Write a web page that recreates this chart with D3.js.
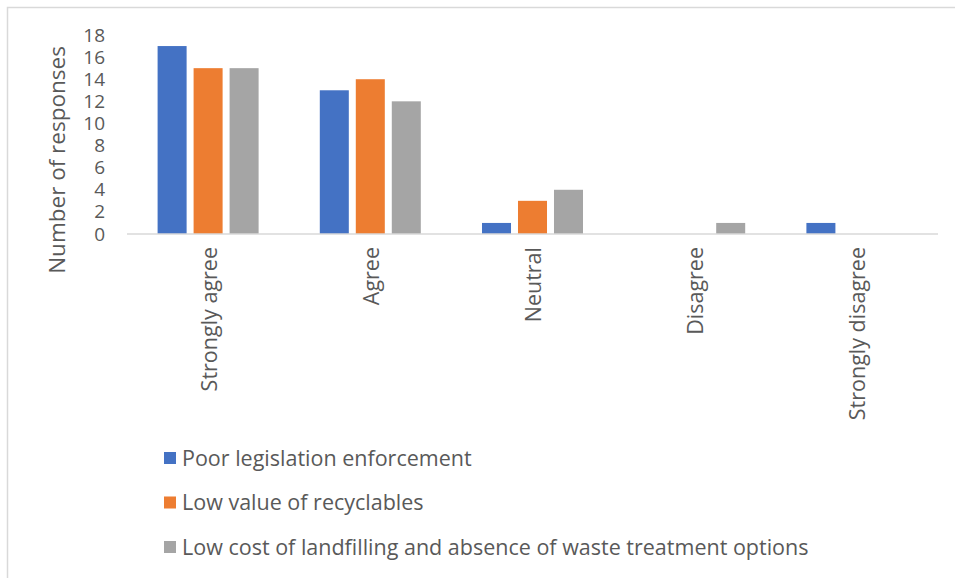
<!DOCTYPE html>
<html>
<head>
<meta charset="utf-8">
<script src="https://cdn.jsdelivr.net/npm/d3@7"></script>
<style>
  html, body { margin: 0; padding: 0; background: #fff; }
  svg { display: block; font-family: "Open Sans", "Noto Sans", sans-serif; }
</style>
</head>
<body>
<svg id="chart" width="955" height="578"></svg>
<script>
// Response categories along the x axis
const categories = ["Strongly agree", "Agree", "Neutral", "Disagree", "Strongly disagree"];

// Series names and their colours
const seriesNames = [
  "Poor legislation enforcement",
  "Low value of recyclables",
  "Low cost of landfilling and absence of waste treatment options"
];
const seriesColors = ["#4472c4", "#ed7d31", "#a5a5a5"];

// Number of responses per category, one array per series
const poorEnforcement = [17, 13, 1, 0, 1];
const lowValue        = [15, 14, 3, 0, 0];
const lowCost         = [15, 12, 4, 1, 0];
const seriesValues = [poorEnforcement, lowValue, lowCost];

// Y axis ticks
const yTicks = [0, 2, 4, 6, 8, 10, 12, 14, 16, 18];

const svg = d3.select("#chart");
const textColor = "#595959";

// Outer frame (top and left edges)
svg.append("path")
  .attr("d", "M7.5,578 V7.5 H955")
  .attr("fill", "none")
  .attr("stroke", "#d9d9d9")
  .attr("stroke-width", 1.5);

const plot = { left: 127, right: 938, top: 35, bottom: 234 };

const x = d3.scaleBand().domain(categories).range([plot.left, plot.right]);
const x1 = d3.scaleBand().domain(d3.range(seriesNames.length))
  .range([0, x.bandwidth()]).paddingInner(0.194).paddingOuter(0.85);
const y = d3.scaleLinear().domain([0, 18]).range([plot.bottom, plot.top]);

// Bars
const groups = svg.append("g").selectAll("g")
  .data(categories)
  .join("g")
  .attr("transform", d => `translate(${x(d)},0)`);

groups.selectAll("rect")
  .data((c, i) => seriesValues.map((vals, s) => ({ s, v: vals[i] })).filter(d => d.v > 0))
  .join("rect")
  .attr("x", d => x1(d.s))
  .attr("width", x1.bandwidth())
  .attr("y", d => y(d.v))
  .attr("height", d => y(0) - y(d.v))
  .attr("fill", d => seriesColors[d.s]);

// Baseline
svg.append("line")
  .attr("x1", plot.left).attr("x2", plot.right)
  .attr("y1", y(0)).attr("y2", y(0))
  .attr("stroke", "#d9d9d9").attr("stroke-width", 1.5);

// Y axis labels
const yAxis = d3.axisLeft(y).tickValues(yTicks).tickSize(0).tickPadding(0);
const yg = svg.append("g").attr("transform", "translate(105,0)").call(yAxis);
yg.select(".domain").remove();
yg.selectAll("text")
  .attr("fill", textColor)
  .attr("font-size", 19)
  .attr("font-family", "'Open Sans', sans-serif");

// Y axis title
svg.append("text")
  .attr("transform", "translate(65,160) rotate(-90)")
  .attr("text-anchor", "middle")
  .attr("fill", textColor)
  .attr("font-size", 22.5)
  .text("Number of responses");

// Category labels, rotated
const xAxis = d3.axisBottom(x).tickSize(0).tickPadding(0);
const xg = svg.append("g").attr("transform", `translate(0,${y(0)})`).call(xAxis);
xg.select(".domain").remove();
xg.selectAll("text")
  .attr("fill", textColor)
  .attr("font-size", 21.5)
  .attr("font-family", "'Open Sans', sans-serif")
  .attr("text-anchor", "end")
  .attr("dy", "0.35em")
  .attr("transform", "translate(1,13) rotate(-90)")
  .attr("x", 0).attr("y", 0);

// Legend
const legend = svg.append("g").selectAll("g")
  .data(seriesNames)
  .join("g")
  .attr("transform", (d, i) => `translate(164,${458 + i * 44.5})`);

legend.append("rect")
  .attr("x", 0).attr("y", -6)
  .attr("width", 12).attr("height", 12)
  .attr("fill", (d, i) => seriesColors[i]);

legend.append("text")
  .attr("x", 18).attr("y", 0)
  .attr("dy", "0.35em")
  .attr("fill", textColor)
  .attr("font-size", 21.5)
  .text(d => d);
</script>
</body>
</html>
